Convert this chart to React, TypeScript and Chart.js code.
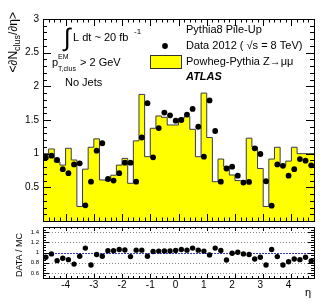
import React, { useEffect, useRef } from 'react';
import { Chart, registerables } from 'chart.js';
Chart.register(...registerables);

const W = 329;
const H = 305;
const FONT = '"Liberation Sans", Arial, Helvetica, sans-serif';

// 48 bins of width 0.2 in eta, from -4.8 to 4.8
const ETA_MIN = -4.8;
const BIN_W = 0.2;

const mcValues = [
  1.02, 1.0, 1.07, 0.876, 0.83, 1.08, 0.906, 0.215, 0.77, 1.095,
  1.22, 0.61, 0.6, 0.68, 0.83, 0.93, 0.56, 1.19, 1.88, 0.955,
  1.377, 1.56, 1.54, 1.426, 1.426, 1.526, 1.55, 1.362, 0.955, 1.9,
  1.24, 0.584, 0.92, 0.81, 0.683, 0.6, 0.6, 1.23, 1.1, 0.78,
  0.215, 0.92, 1.095, 0.82, 0.89, 1.095, 1.0, 1.0,
];

const dataValues = [
  0.94, 0.97, 0.906, 0.77, 0.71, 0.84, 0.857, 0.233, 0.584, 1.045,
  1.155, 0.624, 0.6, 0.71, 0.866, 0.866, 0.584, 1.24, 1.75, 0.946,
  1.38, 1.61, 1.57, 1.49, 1.5, 1.58, 1.664, 1.4, 0.955, 1.79,
  1.337, 0.584, 0.78, 0.807, 0.673, 0.57, 0.58, 1.08, 0.995, 0.59,
  0.228, 0.84, 0.82, 0.673, 0.77, 0.92, 0.896, 0.827,
];

const ratioValues = [
  0.906, 0.973, 0.84, 0.886, 0.86, 0.773, 0.926, 1.086, 0.754, 0.96,
  0.926, 1.034, 1.034, 1.06, 1.05, 0.92, 1.046, 1.046, 0.926, 1.02,
  1.027, 1.03, 1.03, 1.04, 1.06, 1.046, 1.086, 1.046, 1.027, 0.953,
  1.086, 1.04, 0.853, 0.986, 1.006, 0.973, 0.96, 0.873, 0.906, 0.754,
  1.06, 0.92, 0.754, 0.82, 0.873, 0.86, 0.906, 0.833,
];

const xTickValues = [-4, -3, -2, -1, 0, 1, 2, 3, 4];
const xTickLabels = ['-4', '-3', '-2', '-1', '0', '1', '2', '3', '4'];
const mainYTicks = [0.5, 1, 1.5, 2, 2.5, 3];
const mainYLabels = ['0.5', '1', '1.5', '2', '2.5', '3'];
const ratioYTicks = [0.6, 0.8, 1, 1.2, 1.4];
const ratioYLabels = ['0.6', '0.8', '1', '1.2', '1.4'];

const binCenter = (i: number) => ETA_MIN + BIN_W * (i + 0.5);
const binEdge = (i: number) => ETA_MIN + BIN_W * i;

type TickSpec = {
  xMinorStep: number; xMajorEvery: number; xMajLen: number; xMinLen: number;
  yMinorStep: number; yMajorEvery: number; yMajLen: number; yMinLen: number;
  yFrom: number; yTo: number;
};

function framePlugin(id: string, spec: TickSpec) {
  return {
    id,
    afterDraw(chart: any) {
      const { ctx, chartArea: a, scales } = chart;
      const xs = scales.x, ys = scales.y;
      ctx.save();
      ctx.strokeStyle = '#000';
      ctx.lineWidth = 1;
      ctx.beginPath();
      const kx = Math.round(4.8 / spec.xMinorStep);
      for (let k = -kx; k <= kx; k++) {
        const v = k * spec.xMinorStep;
        const px = Math.round(xs.getPixelForValue(v)) + 0.5;
        const len = k % spec.xMajorEvery === 0 ? spec.xMajLen : spec.xMinLen;
        ctx.moveTo(px, a.bottom);
        ctx.lineTo(px, a.bottom - len);
        ctx.moveTo(px, a.top);
        ctx.lineTo(px, a.top + len);
      }
      for (let k = spec.yFrom; k <= spec.yTo; k++) {
        const v = k * spec.yMinorStep;
        const py = Math.round(ys.getPixelForValue(v)) + 0.5;
        const len = k % spec.yMajorEvery === 0 ? spec.yMajLen : spec.yMinLen;
        ctx.moveTo(a.left, py);
        ctx.lineTo(a.left + len, py);
        ctx.moveTo(a.right, py);
        ctx.lineTo(a.right - len, py);
      }
      ctx.stroke();
      ctx.strokeRect(Math.round(a.left) + 0.5, Math.round(a.top) + 0.5,
        Math.round(a.right - a.left), Math.round(a.bottom - a.top));
      ctx.restore();
    },
  };
}

const mainTextPlugin = {
  id: 'mainText',
  afterDraw(chart: any) {
    const ctx = chart.ctx;
    ctx.save();
    ctx.fillStyle = '#000';
    ctx.textBaseline = 'alphabetic';
    ctx.textAlign = 'left';
    // luminosity
    ctx.font = `25px ${FONT}`;
    ctx.fillText('\u222B', 64, 46);
    ctx.font = `11px ${FONT}`;
    ctx.fillText('L dt ~ 20 fb', 73, 41);
    ctx.font = `8px ${FONT}`;
    ctx.fillText('-1', 134, 34);
    // pT cut
    ctx.font = `11px ${FONT}`;
    ctx.fillText('p', 52, 66);
    ctx.font = `7px ${FONT}`;
    ctx.fillText('EM', 58, 59);
    ctx.fillText('T,clus', 58, 71);
    ctx.font = `11px ${FONT}`;
    ctx.fillText('> 2 GeV', 80, 66);
    ctx.fillText('No Jets', 65, 86);
    // legend
    ctx.textBaseline = 'middle';
    ctx.fillText('Pythia8 Pile-Up', 186, 30);
    ctx.fillText('Data 2012 ( \u221As = 8 TeV)', 186, 46);
    ctx.fillText('Powheg-Pythia Z\u2192\u03BC\u03BC', 186, 62);
    ctx.font = `italic bold 11px ${FONT}`;
    ctx.fillText('ATLAS', 186, 77);
    // markers
    ctx.beginPath();
    ctx.arc(165, 46, 2.9, 0, Math.PI * 2);
    ctx.fill();
    ctx.fillStyle = '#ffff00';
    ctx.fillRect(151, 56, 30, 12);
    ctx.strokeStyle = '#333';
    ctx.strokeRect(150.5, 55.5, 31, 13);
    // y title
    ctx.fillStyle = '#000';
    ctx.translate(17, 12);
    ctx.rotate(-Math.PI / 2);
    ctx.textBaseline = 'alphabetic';
    const big = `12px ${FONT}`, small = `9px ${FONT}`;
    ctx.font = big; const w1 = ctx.measureText('<\u2202N').width;
    ctx.font = small; const w2 = ctx.measureText('clus').width;
    ctx.font = big; const w3 = ctx.measureText('/\u2202\u03B7>').width;
    let x = -(w1 + w2 + w3);
    ctx.font = big; ctx.fillText('<\u2202N', x, 0); x += w1;
    ctx.font = small; ctx.fillText('clus', x, 3); x += w2;
    ctx.font = big; ctx.fillText('/\u2202\u03B7>', x, 0);
    ctx.restore();
  },
};

const ratioExtrasPlugin = {
  id: 'ratioExtras',
  beforeDatasetsDraw(chart: any) {
    const { ctx, chartArea: a, scales } = chart;
    ctx.save();
    ctx.lineWidth = 1;
    ctx.strokeStyle = '#888';
    ctx.setLineDash([1, 2]);
    ratioYTicks.forEach((v) => {
      if (v === 1) return;
      const py = Math.round(scales.y.getPixelForValue(v)) + 0.5;
      ctx.beginPath();
      ctx.moveTo(a.left, py);
      ctx.lineTo(a.right, py);
      ctx.stroke();
    });
    ctx.strokeStyle = '#3535c8';
    ctx.setLineDash([2, 1]);
    const p1 = Math.round(scales.y.getPixelForValue(1)) + 0.5;
    ctx.beginPath();
    ctx.moveTo(a.left, p1);
    ctx.lineTo(a.right, p1);
    ctx.stroke();
    ctx.restore();
  },
  afterDraw(chart: any) {
    const { ctx, chartArea: a, scales } = chart;
    ctx.save();
    ctx.fillStyle = '#000';
    ctx.font = `10px ${FONT}`;
    ctx.textAlign = 'center';
    ctx.textBaseline = 'top';
    xTickValues.forEach((v, i) => {
      const px = scales.x.getPixelForValue(v) - (v >= 0 ? 3 : 0);
      ctx.fillText(xTickLabels[i], px, a.bottom + 2);
    });
    ctx.font = `11px ${FONT}`;
    ctx.textAlign = 'left';
    ctx.fillText('\u03B7', 305, 287);
    // y title
    ctx.translate(22, 255);
    ctx.rotate(-Math.PI / 2);
    ctx.textAlign = 'center';
    ctx.textBaseline = 'alphabetic';
    ctx.font = `9px ${FONT}`;
    ctx.fillText('DATA / MC', 0, 0);
    ctx.restore();
  },
};

function yAxis(min: number, max: number, ticks: number[], labels: string[], size: number) {
  return {
    type: 'linear' as const,
    min,
    max,
    afterFit: (s: any) => { s.width = 43; },
    afterBuildTicks: (ax: any) => { ax.ticks = ticks.map((value) => ({ value })); },
    ticks: {
      autoSkip: false,
      padding: 4,
      color: '#000',
      font: { family: FONT, size },
      callback: (value: number) => {
        const i = ticks.findIndex((t) => Math.abs(t - value) < 1e-9);
        return i >= 0 ? labels[i] : '';
      },
    },
    grid: { display: false, drawTicks: false },
    border: { display: false },
  };
}

export default function App() {
  const mainRef = useRef<HTMLCanvasElement>(null);
  const ratioRef = useRef<HTMLCanvasElement>(null);

  useEffect(() => {
    document.body.style.margin = '0';
    const histPoints = mcValues.map((v, i) => ({ x: binEdge(i), y: v }));
    histPoints.push({ x: binEdge(mcValues.length), y: mcValues[mcValues.length - 1] });
    const dataPoints = dataValues.map((v, i) => ({ x: binCenter(i), y: v }));
    const ratioPoints = ratioValues.map((v, i) => ({ x: binCenter(i), y: v }));

    const main = new Chart(mainRef.current!, {
      type: 'line',
      data: {
        datasets: [
          {
            type: 'scatter',
            data: dataPoints,
            pointRadius: 2.9,
            pointBackgroundColor: '#000',
            pointBorderWidth: 0,
            order: 0,
          } as any,
          {
            type: 'line',
            data: histPoints,
            stepped: 'after',
            fill: 'origin',
            backgroundColor: '#ffff00',
            borderColor: '#3a3a4a',
            borderWidth: 1,
            pointRadius: 0,
            order: 1,
          } as any,
        ],
      },
      options: {
        responsive: false,
        animation: false,
        devicePixelRatio: 1,
        layout: { padding: { top: 19, right: 15, bottom: 84, left: 0 } },
        plugins: { legend: { display: false }, tooltip: { enabled: false } },
        scales: {
          x: { type: 'linear', min: -4.8, max: 4.8, display: false },
          y: yAxis(0, 3, mainYTicks, mainYLabels, 10) as any,
        },
      },
      plugins: [
        framePlugin('mainFrame', {
          xMinorStep: 0.2, xMajorEvery: 5, xMajLen: 7, xMinLen: 3.5,
          yMinorStep: 0.1, yMajorEvery: 5, yMajLen: 8, yMinLen: 4,
          yFrom: 0, yTo: 30,
        }),
        mainTextPlugin,
      ],
    });

    const ratio = new Chart(ratioRef.current!, {
      type: 'scatter',
      data: {
        datasets: [
          {
            data: ratioPoints,
            pointRadius: 2.7,
            pointBackgroundColor: '#000',
            pointBorderWidth: 0,
          },
        ],
      },
      options: {
        responsive: false,
        animation: false,
        devicePixelRatio: 1,
        layout: { padding: { top: 227, right: 15, bottom: 27, left: 0 } },
        plugins: { legend: { display: false }, tooltip: { enabled: false } },
        scales: {
          x: { type: 'linear', min: -4.8, max: 4.8, display: false },
          y: yAxis(0.5, 1.5, ratioYTicks, ratioYLabels, 6) as any,
        },
      },
      plugins: [
        framePlugin('ratioFrame', {
          xMinorStep: 0.2, xMajorEvery: 5, xMajLen: 4, xMinLen: 2,
          yMinorStep: 0.05, yMajorEvery: 4, yMajLen: 6, yMinLen: 3,
          yFrom: 10, yTo: 30,
        }),
        ratioExtrasPlugin,
      ],
    });

    return () => {
      main.destroy();
      ratio.destroy();
    };
  }, []);

  return (
    <div style={{ position: 'relative', width: W, height: H, background: '#fff' }}>
      <canvas ref={mainRef} width={W} height={H} style={{ position: 'absolute', left: 0, top: 0 }} />
      <canvas ref={ratioRef} width={W} height={H} style={{ position: 'absolute', left: 0, top: 0 }} />
    </div>
  );
}
